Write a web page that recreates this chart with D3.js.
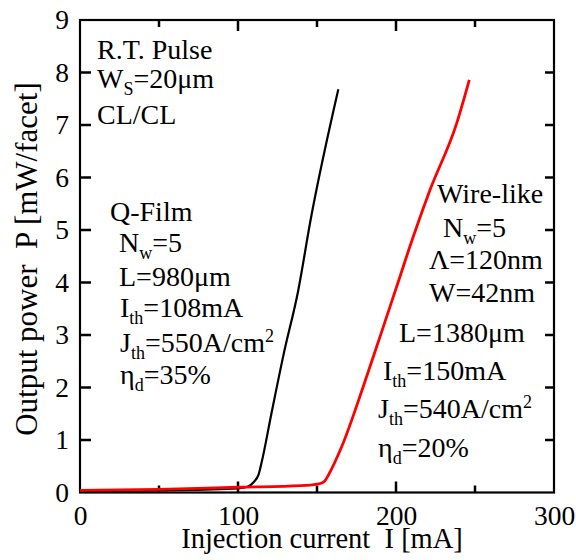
<!DOCTYPE html>
<html>
<head>
<meta charset="utf-8">
<script src="https://cdn.jsdelivr.net/npm/d3@7"></script>
<style>
  body { margin: 0; background: #fff; }
  svg text { font-family: "Liberation Serif", "Times New Roman", serif; fill: #000; }
</style>
</head>
<body>
<div id="chart"></div>
<script>
// Данные: ток инжекции [mA] и выходная мощность [mW/facet]
const qFilmCurrent = [0, 50, 100, 106, 110, 113, 115, 121, 129, 138, 146, 163.5];
const qFilmPower   = [0.02, 0.04, 0.08, 0.11, 0.2, 0.34, 0.58, 1.48, 2.65, 3.83, 5.2, 7.68];

const wireCurrent = [0, 50, 100, 140, 150, 153, 155, 157, 165.6, 179.3, 189.9, 200.4, 210.9, 221.5, 238.4, 246.4];
const wirePower   = [0.04, 0.06, 0.1, 0.13, 0.16, 0.18, 0.22, 0.32, 0.87, 2.02, 2.97, 3.92, 4.87, 5.76, 7.03, 7.86];

const xMajorTicks = [0, 100, 200, 300];
const xMinorTicks = [50, 150, 250];
const yTicks = [0, 1, 2, 3, 4, 5, 6, 7, 8, 9];

const width = 576;
const height = 560;
const margin = { top: 20, right: 22, bottom: 67.5, left: 80 };
const fontSize = 28;

const svg = d3.select('#chart')
    .append('svg')
    .attr('width', width)
    .attr('height', height);

const x = d3.scaleLinear().domain([0, 300]).range([margin.left, width - margin.right]);
const y = d3.scaleLinear().domain([0, 9]).range([height - margin.bottom, margin.top]);

// Подписи осей (риски рисуем отдельно)
const bottomAxis = svg.append('g')
    .attr('transform', `translate(0,${y(0)})`)
    .call(d3.axisBottom(x).tickValues(xMajorTicks).tickSize(0).tickPadding(13));
const leftAxis = svg.append('g')
    .attr('transform', `translate(${x(0)},0)`)
    .call(d3.axisLeft(y).tickValues(yTicks).tickSize(0).tickPadding(11));

[bottomAxis, leftAxis].forEach(g => {
    g.attr('font-family', null);
    g.select('.domain').remove();
    g.selectAll('.tick line').remove();
    g.selectAll('.tick text')
        .attr('fill', '#000')
        .style('font-size', '27.5px');
});

// Риски внутрь (прямоугольниками): сверху/снизу по X, слева/справа по Y
const tw = 2.5;
const ticks = svg.append('g').attr('fill', '#000');

const xTickDefs = xMajorTicks.map(v => ({ v, len: 11 }))
    .concat(xMinorTicks.map(v => ({ v, len: 7 })))
    .filter(d => d.v > 0 && d.v < 300);

ticks.selectAll('rect.xb')
    .data(xTickDefs)
    .enter().append('rect')
    .attr('class', 'xb')
    .attr('x', d => x(d.v) - tw / 2)
    .attr('y', d => y(0) - d.len)
    .attr('width', tw)
    .attr('height', d => d.len);

ticks.selectAll('rect.xt')
    .data(xTickDefs)
    .enter().append('rect')
    .attr('class', 'xt')
    .attr('x', d => x(d.v) - tw / 2)
    .attr('y', y(9))
    .attr('width', tw)
    .attr('height', d => d.len);

const yInner = yTicks.filter(v => v > 0 && v < 9);

ticks.selectAll('rect.yl')
    .data(yInner)
    .enter().append('rect')
    .attr('class', 'yl')
    .attr('x', x(0))
    .attr('y', d => y(d) - tw / 2)
    .attr('width', 11)
    .attr('height', tw);

ticks.selectAll('rect.yr')
    .data(yInner)
    .enter().append('rect')
    .attr('class', 'yr')
    .attr('x', x(300) - 9)
    .attr('y', d => y(d) - tw / 2)
    .attr('width', 9)
    .attr('height', tw);

// Рамка
svg.append('rect')
    .attr('x', x(0))
    .attr('y', y(9))
    .attr('width', x(300) - x(0))
    .attr('height', y(0) - y(9))
    .attr('fill', 'none')
    .attr('stroke', '#000')
    .attr('stroke-width', 2.2);

// Кривые
const line = d3.line()
    .x(d => x(d[0]))
    .y(d => y(d[1]))
    .curve(d3.curveMonotoneX);

const wireData = d3.zip(wireCurrent, wirePower);
const qFilmData = d3.zip(qFilmCurrent, qFilmPower);

svg.append('path')
    .datum(qFilmData)
    .attr('d', line)
    .attr('fill', 'none')
    .attr('stroke', '#000')
    .attr('stroke-width', 2.2);

svg.append('path')
    .datum(wireData)
    .attr('d', line)
    .attr('fill', 'none')
    .attr('stroke', '#ff0000')
    .attr('stroke-width', 2.8);

// Подписи с индексами
function addLabel(px, py, parts) {
    const t = svg.append('text')
        .attr('x', px)
        .attr('y', py)
        .style('font-size', fontSize + 'px');
    let shift = 0;
    parts.forEach(p => {
        let dy = 0;
        let size = fontSize;
        if (p.sub) { dy = 7; size = 18; }
        if (p.sup) { dy = -10; size = 18; }
        t.append('tspan')
            .attr('dy', dy - shift)
            .style('font-size', size + 'px')
            .text(p.t);
        shift = dy;
    });
    return t;
}

addLabel(97, 59, [{ t: 'R.T. Pulse' }]);
addLabel(97, 88, [{ t: 'W' }, { t: 'S', sub: true }, { t: '=20μm' }]);
addLabel(97, 124, [{ t: 'CL/CL' }]);

addLabel(110, 221, [{ t: 'Q-Film' }]);
addLabel(119, 252, [{ t: 'N' }, { t: 'w', sub: true }, { t: '=5' }]);
addLabel(119, 286, [{ t: 'L=980μm' }]);
addLabel(120, 317, [{ t: 'I' }, { t: 'th', sub: true }, { t: '=108mA' }]);
addLabel(120, 352, [{ t: 'J' }, { t: 'th', sub: true }, { t: '=550A/cm' }, { t: '2', sup: true }]);
addLabel(120, 384, [{ t: 'η' }, { t: 'd', sub: true }, { t: '=35%' }]);

addLabel(437, 203, [{ t: 'Wire-like' }]);
addLabel(443, 237, [{ t: 'N' }, { t: 'w', sub: true }, { t: '=5' }]);
addLabel(429, 269, [{ t: 'Λ=120nm' }]);
addLabel(429, 302, [{ t: 'W=42nm' }]);
addLabel(399, 342, [{ t: 'L=1380μm' }]);
addLabel(383, 380, [{ t: 'I' }, { t: 'th', sub: true }, { t: '=150mA' }]);
addLabel(378, 418, [{ t: 'J' }, { t: 'th', sub: true }, { t: '=540A/cm' }, { t: '2', sup: true }]);
addLabel(378, 457, [{ t: 'η' }, { t: 'd', sub: true }, { t: '=20%' }]);

// Заголовки осей
svg.append('text')
    .attr('x', 322)
    .attr('y', 548)
    .attr('text-anchor', 'middle')
    .style('font-size', '28.5px')
    .style('white-space', 'pre')
    .text('Injection current  I [mA]');

svg.append('text')
    .attr('transform', `translate(37,259) rotate(-90)`)
    .attr('text-anchor', 'middle')
    .style('font-size', '31px')
    .style('white-space', 'pre')
    .text('Output power  P [mW/facet]');
</script>
</body>
</html>
